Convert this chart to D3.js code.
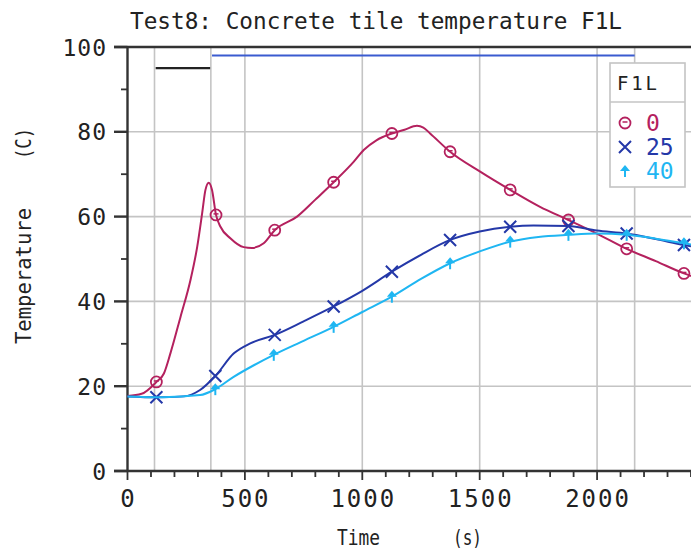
<!DOCTYPE html>
<html>
<head>
<meta charset="utf-8">
<script src="https://cdn.jsdelivr.net/npm/d3@7"></script>
<style>
  body { margin: 0; background: #fff; }
  text { font-family: "DejaVu Sans Mono", monospace; fill: #222; }
</style>
</head>
<body>
<div id="chart"></div>
<script>
// data: [time s, temperature C]
const series0 = [[0,17.7],[60,18.2],[123,21],[155,23],[183,27.8],[226,36.4],[268,45],[297,52.9],[318,60.8],[332,66.3],[346,68],[360,66.3],[377,60.4],[396,57.6],[438,54.9],[495,52.8],[530,52.6],[580,53.7],[627,56.8],[722,60],[800,64],[878,68.1],[963,72.9],[1006,75.7],[1060,78],[1126,79.6],[1180,80.5],[1233,81.4],[1260,81],[1289,79.6],[1374,75.3],[1502,70.6],[1630,66.3],[1757,62.3],[1878,59.2],[1999,56],[2126,52.4],[2250,49.5],[2370,46.6],[2400,46]];
const series25 = [[0,17.6],[123,17.4],[240,17.6],[309,19.1],[374,22.4],[452,27.7],[523,30.1],[627,32.1],[750,35.3],[878,38.8],[1000,42.5],[1126,47],[1250,51],[1374,54.5],[1500,56.5],[1630,57.6],[1729,57.9],[1878,57.8],[1999,56.7],[2126,56],[2250,54.7],[2370,53.3],[2400,53]];
const series40 = [[0,17.6],[150,17.4],[309,17.9],[374,19.3],[452,22.2],[540,25],[623,27.4],[750,30.7],[878,34],[1000,37.5],[1126,41.1],[1250,45.3],[1374,49],[1500,51.8],[1630,54.1],[1750,55.2],[1878,55.7],[1999,56],[2126,55.7],[2250,54.8],[2370,53.7],[2400,53.4]];
const markerTimes = [123,374,377,623,627,878,1126,1374,1630,1878,2126,2370];
const seriesNames = ["0", "25", "40"];
const seriesColors = ["#b4215e", "#2438a8", "#1fb6f2"];
const eventTimes = [115, 355, 2160];
const phaseBars = [[120, 352, 95, "#222"], [360, 2160, 98, "#3a5bd0"]];
const xTicks = [0, 500, 1000, 1500, 2000];
const yTicks = [0, 20, 40, 60, 80, 100];

const W = 691, H = 549;
const svg = d3.select("#chart").append("svg").attr("width", W).attr("height", H);

const x = d3.scaleLinear().domain([0, 2400]).range([127.5, 691]);
const y = d3.scaleLinear().domain([0, 100]).range([471, 47]);

// grid
const grid = svg.append("g").attr("stroke", "#c4c4c4").attr("stroke-width", 1.6);
grid.selectAll(".gy").data([20, 40, 60, 80]).enter().append("line")
  .attr("x1", x(0)).attr("x2", W).attr("y1", d => y(d)).attr("y2", d => y(d));
grid.selectAll(".gx").data(xTicks.slice(1).concat(eventTimes)).enter().append("line")
  .attr("x1", d => x(d)).attr("x2", d => x(d)).attr("y1", y(100)).attr("y2", y(0));

// phase bars at top
svg.selectAll(".phase").data(phaseBars).enter().append("line")
  .attr("x1", d => x(d[0])).attr("x2", d => x(d[1]))
  .attr("y1", d => y(d[2])).attr("y2", d => y(d[2]))
  .attr("stroke", d => d[3]).attr("stroke-width", 2.2);

// axes
const axes = svg.append("g").attr("stroke", "#333").attr("stroke-width", 2.4);
axes.append("line").attr("x1", x(0)).attr("x2", x(0)).attr("y1", y(100)).attr("y2", y(0) + 1);
axes.append("line").attr("x1", 114).attr("x2", W).attr("y1", y(0)).attr("y2", y(0));
axes.append("line").attr("x1", 114).attr("x2", W).attr("y1", y(100)).attr("y2", y(100));
axes.selectAll(".ymaj").data(yTicks).enter().append("line")
  .attr("x1", 114).attr("x2", x(0)).attr("y1", d => y(d)).attr("y2", d => y(d));
axes.selectAll(".ymin").data(d3.range(10, 100, 20)).enter().append("line")
  .attr("x1", 121).attr("x2", x(0)).attr("y1", d => y(d)).attr("y2", d => y(d))
  .attr("stroke-width", 1.8);
axes.selectAll(".xmin").data(d3.range(0, 2401, 100)).enter().append("line")
  .attr("x1", d => x(d)).attr("x2", d => x(d)).attr("y1", y(0)).attr("y2", d => y(0) + (d % 500 === 0 ? 9 : 6))
  .attr("stroke-width", 1.8);

// tick labels
svg.selectAll(".yl").data(yTicks).enter().append("text")
  .attr("x", 107).attr("y", d => y(d) + 8.5).attr("text-anchor", "end")
  .attr("font-size", 23).attr("letter-spacing", 1).text(d => d);
svg.selectAll(".xl").data(xTicks).enter().append("text")
  .attr("x", d => x(d) + 1).attr("y", 507).attr("text-anchor", "middle")
  .attr("font-size", 24).attr("letter-spacing", 2).text(d => d);

// titles
svg.append("text").attr("x", 130).attr("y", 29).attr("font-size", 23)
  .attr("textLength", 492).attr("lengthAdjust", "spacingAndGlyphs")
  .text("Test8: Concrete tile temperature F1L");
svg.append("text").attr("x", 337).attr("y", 545).attr("font-size", 22)
  .attr("textLength", 43).attr("lengthAdjust", "spacingAndGlyphs").text("Time");
svg.append("text").attr("x", 453).attr("y", 545).attr("font-size", 22)
  .attr("textLength", 29).attr("lengthAdjust", "spacingAndGlyphs").text("(s)");
svg.append("text").attr("transform", "translate(31,344) rotate(-90)").attr("font-size", 22)
  .attr("textLength", 136).attr("lengthAdjust", "spacingAndGlyphs").text("Temperature");
svg.append("text").attr("transform", "translate(31,159) rotate(-90)").attr("font-size", 22)
  .attr("textLength", 31).attr("lengthAdjust", "spacingAndGlyphs").text("(C)");

// marker drawers
function drawMarker(g, i, color) {
  if (i === 0) {
    g.append("circle").attr("r", 5.5).attr("fill", "none").attr("stroke", color).attr("stroke-width", 1.8);
    g.append("line").attr("x1", -2.5).attr("x2", 2.5).attr("y1", -1).attr("y2", -1).attr("stroke", color).attr("stroke-width", 1.5);
  } else if (i === 1) {
    g.append("path").attr("d", "M-6,-6L6,6M-6,6L6,-6").attr("stroke", color).attr("stroke-width", 2).attr("fill", "none");
  } else {
    g.append("path").attr("d", "M0,-6L-5,0L5,0Z").attr("fill", color);
    g.append("path").attr("d", "M0,-2L0,6").attr("stroke", color).attr("stroke-width", 2);
  }
}

// curves
const plot = svg.append("g");
const line = d3.line().x(d => x(d[0])).y(d => y(d[1])).curve(d3.curveMonotoneX);
[series0, series25, series40].forEach((s, i) => {
  plot.append("path").datum(s).attr("d", line).attr("fill", "none")
    .attr("stroke", seriesColors[i]).attr("stroke-width", 2);
  s.filter(d => markerTimes.includes(d[0])).forEach(d => {
    drawMarker(plot.append("g").attr("transform", `translate(${x(d[0])},${y(d[1])})`), i, seriesColors[i]);
  });
});

// legend
const lg = svg.append("g");
lg.append("rect").attr("x", 610).attr("y", 63).attr("width", 75).attr("height", 124)
  .attr("fill", "#fff").attr("stroke", "#c4c4c4").attr("stroke-width", 1.6);
lg.append("line").attr("x1", 610).attr("x2", 685).attr("y1", 102).attr("y2", 102)
  .attr("stroke", "#c4c4c4").attr("stroke-width", 1.6);
lg.append("text").attr("x", 617).attr("y", 90).attr("font-size", 19)
  .attr("textLength", 40).attr("lengthAdjust", "spacing").text("F1L");
seriesNames.forEach((n, i) => {
  const yy = 123 + i * 24;
  drawMarker(lg.append("g").attr("transform", `translate(625,${yy})`), i, seriesColors[i]);
  lg.append("text").attr("x", 646).attr("y", yy + 8).attr("font-size", 23)
    .style("fill", seriesColors[i]).text(n);
});
</script>
</body>
</html>
